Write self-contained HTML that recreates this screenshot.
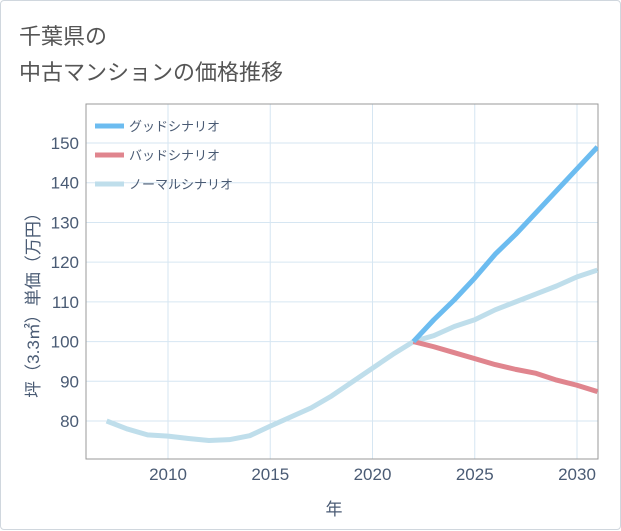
<!DOCTYPE html>
<html><head><meta charset="utf-8"><style>
body{margin:0;background:#fff;font-family:"Liberation Sans","Noto Sans CJK JP",sans-serif;}
#card{position:absolute;left:0;top:0;width:619px;height:528px;border:1px solid #d0d7de;border-radius:4px;background:#fff;}
.t{position:absolute;left:18px;font-size:22px;color:#555;}
</style></head><body>
<div id="card">
<div class="t" style="top:18px">千葉県の</div>
<div class="t" style="top:54px">中古マンションの価格推移</div>
<svg id="c" width="621" height="530" style="position:absolute;left:0;top:0"></svg>
</div>
<script>
const years=[2007,2008,2009,2010,2011,2012,2013,2014,2015,2016,2017,2018,2019,2020,2021,2022,2023,2024,2025,2026,2027,2028,2029,2030,2031];
const normal=[80,78,76.5,76.2,75.6,75.1,75.3,76.3,78.7,81,83.3,86.3,89.8,93.3,96.8,100,101.5,103.8,105.5,108,110,112,114,116.3,118];
const goodYears=[2022,2023,2024,2025,2026,2027,2028,2029,2030,2031];
const good=[100,105.5,110.5,116,122,127,132.5,138,143.5,149];
const bad=[100,98.7,97.2,95.7,94.2,93,92,90.3,89,87.4];
const yTicks=[80,90,100,110,120,130,140,150];
const xTicks=[2010,2015,2020,2025,2030];
const L=85,R=597,T=103,B=458;
const TC='#4a5b74';
const x=v=>167+(v-2010)*20.45;
const y=v=>420-(v-80)*3.971;
const svg=document.getElementById('c');const NS='http://www.w3.org/2000/svg';
function mk(tag,at,parent){const e=document.createElementNS(NS,tag);for(const k in at)e.setAttribute(k,at[k]);(parent||svg).appendChild(e);return e;}
yTicks.forEach(v=>{const l=mk('line',{x1:L,x2:R,y1:y(v),y2:y(v),stroke:'#d6e6f2','stroke-width':1});


const t=mk('text',{x:78,y:y(v)+6,'text-anchor':'end','font-size':17,fill:TC});t.textContent=v;

});
xTicks.forEach(v=>{const l=mk('line',{x1:x(v),x2:x(v),y1:T,y2:B,stroke:'#d6e6f2','stroke-width':1});


const t=mk('text',{x:x(v),y:479,'text-anchor':'middle','font-size':17,fill:TC});t.textContent=v;

});
const fr=mk('rect',{x:L,y:T,width:R-L,height:B-T,fill:'none',stroke:'#999','stroke-width':1});


const cp=mk('clipPath',{id:'cp'});mk('rect',{x:L,y:T,width:R-L,height:B-T},cp);
function line(xs,vs,col,name){const p=mk('polyline',{points:xs.map((a,i)=>x(a)+','+y(vs[i])).join(' '),fill:'none',stroke:col,'stroke-width':5,'stroke-linejoin':'round','clip-path':'url(#cp)'});

}
line(years,normal,'#bfdeeb','normal-scenario-line');
line(goodYears,bad,'#e0858e','bad-scenario-line');
line(goodYears,good,'#6cbcf0','good-scenario-line');
[['グッドシナリオ','#6cbcf0',125],['バッドシナリオ','#e0858e',154],['ノーマルシナリオ','#bfdeeb',183]].forEach(d=>{
const g=mk('g',{});


mk('line',{x1:94,x2:123,y1:d[2],y2:d[2],stroke:d[1],'stroke-width':5},g);
const t=mk('text',{x:128,y:d[2]+5,'font-size':13,fill:TC},g);t.textContent=d[0];});
const xt=mk('text',{x:333,y:514,'text-anchor':'middle','font-size':17,fill:TC});xt.textContent='年';


const yt=mk('text',{x:0,y:0,'text-anchor':'middle','font-size':17,fill:TC,transform:'translate(38,300) rotate(-90)'});yt.textContent='坪（3.3㎡）単価（万円）';


</script>
</body></html>
